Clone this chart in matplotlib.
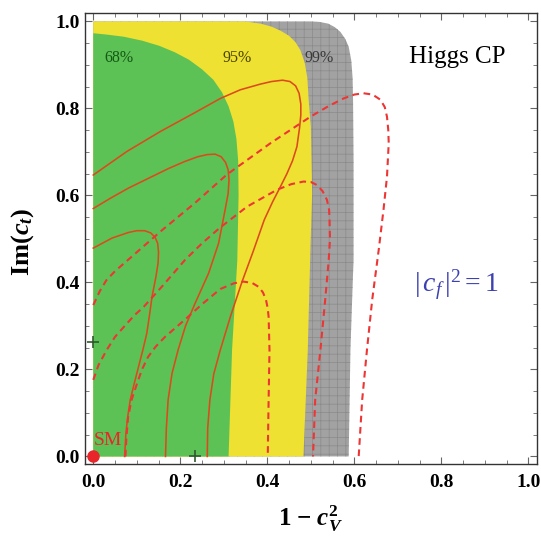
import matplotlib
matplotlib.use('Agg')
import matplotlib.pyplot as plt
from matplotlib.ticker import MultipleLocator, FormatStrFormatter

plt.rcParams['font.family'] = ['Liberation Serif', 'DejaVu Serif']
plt.rcParams['mathtext.fontset'] = 'custom'
plt.rcParams['mathtext.rm'] = 'Liberation Serif'
plt.rcParams['mathtext.it'] = 'Liberation Serif:italic'
plt.rcParams['mathtext.bf'] = 'Liberation Serif:bold'
plt.rcParams['mathtext.bfit'] = 'Liberation Serif:italic:bold'
plt.rcParams['hatch.linewidth'] = 0.5

# ---- confidence regions (x = 1 - cV^2, y = Im(ct)); boundary
cl99_x = [0.0, 0.587, 0.591, 0.598, 0.598, 0.597, 0.596, 0.593, 0.587, 0.579, 0.568, 0.555,
          0.540, 0.520, 0.500, 0.0]
cl99_y = [0.0, 0.0, 0.245, 0.45, 0.68, 0.82, 0.87, 0.91, 0.942, 0.960, 0.976, 0.987,
          0.995, 0.999, 1.0, 1.0]

cl95_x = [0.0, 0.483, 0.493, 0.499, 0.503, 0.500, 0.495, 0.492, 0.486, 0.476, 0.465, 0.450,
          0.430, 0.410, 0.385, 0.350, 0.0]
cl95_y = [0.0, 0.0, 0.245, 0.475, 0.605, 0.758, 0.82, 0.87, 0.905, 0.934, 0.952, 0.967,
          0.979, 0.988, 0.995, 1.0, 1.0]

cl68_x = [0.0, 0.311, 0.319, 0.331, 0.334, 0.333, 0.329, 0.322, 0.311, 0.296, 0.276, 0.250,
          0.220, 0.188, 0.152, 0.112, 0.070, 0.030, 0.0]
cl68_y = [0.0, 0.0, 0.245, 0.45, 0.60, 0.68, 0.73, 0.77, 0.805, 0.837, 0.866, 0.890,
          0.912, 0.929, 0.944, 0.956, 0.965, 0.970, 0.973]

# ---- solid contours
solid_a_x = [0.0, 0.077, 0.154, 0.231, 0.292, 0.338, 0.384, 0.410, 0.435, 0.452, 0.465, 0.473,
             0.477, 0.477, 0.474, 0.468, 0.458, 0.445, 0.430, 0.412, 0.393, 0.367, 0.342, 0.315,
             0.292, 0.277, 0.268, 0.263, 0.262]
solid_a_y = [0.647, 0.701, 0.747, 0.789, 0.823, 0.843, 0.856, 0.862, 0.865, 0.862, 0.852, 0.835,
             0.810, 0.785, 0.755, 0.712, 0.680, 0.650, 0.620, 0.585, 0.544, 0.470, 0.402, 0.321,
             0.245, 0.190, 0.130, 0.065, 0.0]

solid_b_x = [0.0, 0.040, 0.081, 0.130, 0.173, 0.210, 0.240, 0.262, 0.280, 0.294, 0.304, 0.310,
             0.312, 0.310, 0.303, 0.288, 0.265, 0.234, 0.212, 0.195, 0.181, 0.172, 0.168, 0.166]
solid_b_y = [0.570, 0.594, 0.617, 0.641, 0.662, 0.678, 0.689, 0.694, 0.695, 0.689, 0.676, 0.659,
             0.636, 0.605, 0.567, 0.490, 0.421, 0.352, 0.300, 0.245, 0.191, 0.130, 0.065, 0.0]

solid_c_x = [0.0, 0.043, 0.081, 0.100, 0.118, 0.132, 0.142, 0.148, 0.150, 0.149, 0.144, 0.135,
             0.130, 0.123, 0.114, 0.104, 0.094, 0.085, 0.079, 0.075, 0.072]
solid_c_y = [0.479, 0.502, 0.515, 0.519, 0.519, 0.514, 0.504, 0.490, 0.470, 0.445, 0.413, 0.367,
             0.330, 0.283, 0.245, 0.206, 0.167, 0.130, 0.090, 0.053, 0.0]

# ---- dashed contours
dash_a_x = [0.0, 0.015, 0.030, 0.050, 0.080, 0.120, 0.159, 0.234, 0.307, 0.407, 0.499, 0.540,
            0.575, 0.600, 0.621, 0.642, 0.660, 0.670, 0.675, 0.678, 0.679, 0.675, 0.667, 0.656,
            0.641, 0.629, 0.618, 0.610]
dash_a_y = [0.348, 0.380, 0.405, 0.426, 0.452, 0.487, 0.521, 0.583, 0.648, 0.720, 0.781, 0.805,
            0.823, 0.832, 0.835, 0.832, 0.820, 0.803, 0.781, 0.750, 0.720, 0.643, 0.567, 0.475,
            0.360, 0.245, 0.130, 0.0]

dash_b_x = [0.0, 0.012, 0.031, 0.050, 0.074, 0.095, 0.116, 0.160, 0.211, 0.250, 0.290, 0.353,
            0.422, 0.455, 0.483, 0.500, 0.514, 0.527, 0.537, 0.542, 0.543, 0.544, 0.541, 0.533,
            0.522, 0.510, 0.505]
dash_b_y = [0.176, 0.210, 0.245, 0.275, 0.302, 0.325, 0.344, 0.393, 0.452, 0.490, 0.525, 0.574,
            0.613, 0.626, 0.632, 0.631, 0.624, 0.610, 0.590, 0.567, 0.544, 0.500, 0.450, 0.360,
            0.245, 0.130, 0.0]

dash_c_x = [0.074, 0.076, 0.080, 0.088, 0.101, 0.112, 0.126, 0.143, 0.165, 0.210, 0.250, 0.292,
            0.323, 0.345, 0.365, 0.380, 0.390, 0.397, 0.401, 0.403, 0.405, 0.403, 0.401]
dash_c_y = [0.0, 0.040, 0.090, 0.130, 0.169, 0.200, 0.229, 0.252, 0.275, 0.314, 0.350, 0.385,
            0.398, 0.402, 0.399, 0.390, 0.377, 0.360, 0.340, 0.321, 0.245, 0.130, 0.0]

# ---- points
sm_point = (0.0, 0.0)
plus_x = [0.0, 0.234]
plus_y = [0.264, 0.0]

region_labels = ['68%', '95%', '99%']

fig = plt.figure(figsize=(5.41, 5.37), dpi=100)
ax = fig.add_axes([0.1571, 0.1354, 0.8349, 0.8404])

ax.fill(cl99_x, cl99_y, facecolor='#a2a2a2', edgecolor='#8a8a8a', hatch='++', lw=0, zorder=1)
ax.fill(cl95_x, cl95_y, color='#efe132', lw=0, zorder=2)
ax.fill(cl68_x, cl68_y, color='#5dc255', lw=0, zorder=3)

solid_col = '#dc4a1c'
for xs, ys in [(solid_a_x, solid_a_y), (solid_b_x, solid_b_y), (solid_c_x, solid_c_y)]:
    ax.plot(xs, ys, color=solid_col, lw=1.15, zorder=5, solid_joinstyle='round')

dash_col = '#ee3535'
for xs, ys in [(dash_a_x, dash_a_y), (dash_b_x, dash_b_y), (dash_c_x, dash_c_y)]:
    ax.plot(xs, ys, color=dash_col, lw=1.5, ls=(0, (3.2, 2.2)), zorder=6)

ax.plot([sm_point[0]], [sm_point[1]], 'o', color='#e8262a', ms=8, zorder=8, clip_on=False)
ax.text(0.0, 0.036, 'SM', color='#e8262a', fontsize=14, ha='left', va='center', zorder=8)
ax.plot(plus_x, plus_y, '+', color='#2f5a2f', ms=8, mew=1.2, zorder=7, ls='none')

ax.text(0.058, 0.915, region_labels[0], color='#145a14', fontsize=11.5, ha='center', va='center', zorder=4)
ax.text(0.330, 0.915, region_labels[1], color='#4a4500', fontsize=11.5, ha='center', va='center', zorder=4)
ax.text(0.520, 0.915, region_labels[2], color='#3a3a3a', fontsize=11.5, ha='center', va='center', zorder=4)

ax.text(0.837, 0.918, 'Higgs CP', color='black', fontsize=18, ha='center', va='center')
ax.text(0.834, 0.394, r'$|\,c_{f}\,|^2 = 1$', color='#3d40b0', fontsize=20, ha='center', va='center')

ax.set_xlim(-0.019, 1.019)
ax.set_ylim(-0.018, 1.0195)
ax.xaxis.set_major_locator(MultipleLocator(0.2))
ax.yaxis.set_major_locator(MultipleLocator(0.2))
ax.xaxis.set_minor_locator(MultipleLocator(0.05))
ax.yaxis.set_minor_locator(MultipleLocator(0.05))
ax.xaxis.set_major_formatter(FormatStrFormatter('%.1f'))
ax.yaxis.set_major_formatter(FormatStrFormatter('%.1f'))
ax.tick_params(which='both', direction='in', top=True, right=True, color='#666666')
ax.tick_params(which='major', length=5, width=0.8)
ax.tick_params(which='minor', length=2.8, width=0.6)
ax.tick_params(axis='x', which='major', pad=7)
ax.tick_params(axis='y', which='major', pad=4)
for lab in ax.get_xticklabels() + ax.get_yticklabels():
    lab.set_fontweight('bold')
    lab.set_fontsize(14)
for sp in ax.spines.values():
    sp.set_color('#333333')
    sp.set_linewidth(1.0)

fig.text(310 / 541, 1 - 519 / 537, r'$\mathbf{1}\ \mathbf{-}\ \boldsymbol{c}_{\boldsymbol{V}}^{\mathbf{2}}$',
         fontsize=18, ha='center', va='center')
fig.text(23 / 541, 1 - 242 / 537, r'$\mathbf{Im}\mathbf{(}\boldsymbol{c}_{\boldsymbol{t}}\mathbf{)}$',
         fontsize=19, ha='center', va='center', rotation=90)

fig.savefig('out.png', dpi=100)
